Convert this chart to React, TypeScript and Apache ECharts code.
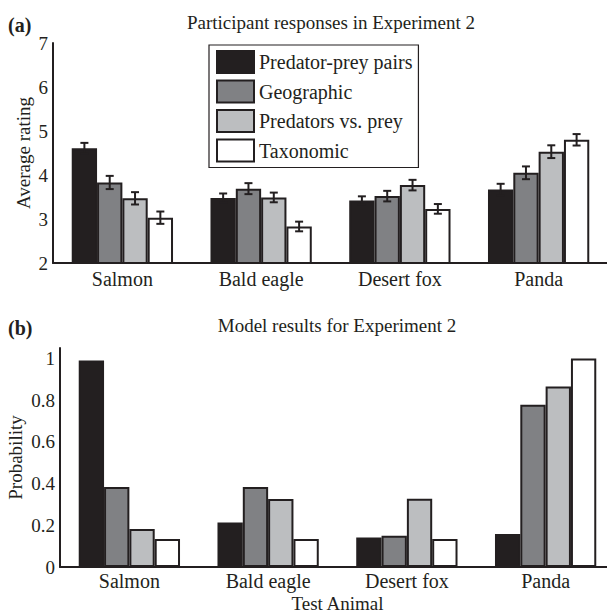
import React, { useEffect, useRef } from "react";
import * as echarts from "echarts";

const categories = ["Salmon", "Bald eagle", "Desert fox", "Panda"];
const seriesNames = ["Predator-prey pairs", "Geographic", "Predators vs. prey", "Taxonomic"];
const barColors = ["#231f20", "#808184", "#bcbec0", "#ffffff"];

// (a) Participant responses: average ratings and error bar half-lengths
const ratingPredatorPrey = [4.61, 3.48, 3.42, 3.67];
const ratingGeographic = [3.83, 3.69, 3.52, 4.05];
const ratingPredVsPrey = [3.47, 3.49, 3.77, 4.53];
const ratingTaxonomic = [3.03, 2.83, 3.23, 4.8];
const errPredatorPrey = [0.12, 0.1, 0.095, 0.13];
const errGeographic = [0.15, 0.125, 0.12, 0.145];
const errPredVsPrey = [0.14, 0.11, 0.12, 0.145];
const errTaxonomic = [0.14, 0.11, 0.11, 0.13];

// (b) Model results: probabilities
const probPredatorPrey = [0.99, 0.213, 0.142, 0.158];
const probGeographic = [0.384, 0.384, 0.15, 0.778];
const probPredVsPrey = [0.182, 0.326, 0.327, 0.866];
const probTaxonomic = [0.134, 0.134, 0.134, 1.0];

const ratings = [ratingPredatorPrey, ratingGeographic, ratingPredVsPrey, ratingTaxonomic];
const errors = [errPredatorPrey, errGeographic, errPredVsPrey, errTaxonomic];
const probs = [probPredatorPrey, probGeographic, probPredVsPrey, probTaxonomic];

const FONT = "'Liberation Serif', 'DejaVu Serif', serif";
const INK = "#231f20";
const CAT_GAP = 0.27;

export default function App() {
  const ref = useRef<HTMLDivElement>(null);
  useEffect(() => {
    if (!ref.current) return;
    const chart = echarts.init(ref.current, null, { renderer: "svg" });

    const errData: any[] = [];
    errors.forEach((arr, k) => {
      arr.forEach((e, c) => errData.push([c, ratings[k][c], e, k]));
    });

    const axisLine = { show: true, lineStyle: { color: INK, width: 2 } };
    const tickLabel = { color: INK, fontFamily: FONT, fontSize: 19, margin: 5 };
    const catLabel = { color: INK, fontFamily: FONT, fontSize: 20, margin: 6 };
    const nameStyle = { color: INK, fontFamily: FONT, fontSize: 19 };

    const barSeries = (data: number[], k: number, axisIdx: number) => ({
      type: "bar",
      name: seriesNames[k],
      xAxisIndex: axisIdx,
      yAxisIndex: axisIdx,
      data,
      barGap: "0%",
      barCategoryGap: CAT_GAP * 100 + "%",
      itemStyle: { color: barColors[k], borderColor: INK, borderWidth: 2 },
      emphasis: { disabled: true },
    });

    const option: any = {
      animation: false,
      backgroundColor: "#ffffff",
      textStyle: { fontFamily: FONT },
      grid: [
        { left: 53, top: 43, width: 555, height: 220, containLabel: false, outerBoundsMode: "none" },
        { left: 60, top: 348, width: 555, height: 219, containLabel: false, outerBoundsMode: "none" },
      ],
      xAxis: [
        {
          type: "category", gridIndex: 0, data: categories,
          axisLine, axisTick: { show: false }, axisLabel: catLabel,
        },
        {
          type: "category", gridIndex: 1, data: categories,
          axisLine, axisTick: { show: false }, axisLabel: { ...catLabel, margin: 4 },
          name: "Test Animal", nameLocation: "middle", nameGap: 27,
          nameMoveOverlap: false,
          nameTextStyle: nameStyle,
        },
      ],
      yAxis: [
        {
          type: "value", gridIndex: 0, min: 2, max: 7, interval: 1,
          axisLine, axisTick: { show: false }, splitLine: { show: false },
          axisLabel: tickLabel,
          name: "Average rating", nameLocation: "middle", nameGap: 20,
          nameMoveOverlap: false,
          nameTextStyle: nameStyle,
        },
        {
          type: "value", gridIndex: 1, min: 0, max: 1.05, interval: 0.2,
          axisLine, axisTick: { show: false }, splitLine: { show: false },
          axisLabel: { ...tickLabel, showMaxLabel: false },
          name: "Probability", nameLocation: "middle", nameGap: 35,
          nameMoveOverlap: false,
          nameTextStyle: nameStyle,
        },
      ],
      legend: {
        data: seriesNames,
        orient: "vertical",
        left: 209,
        top: 45,
        padding: [5, 6, 5, 7],
        itemWidth: 37,
        itemHeight: 22,
        itemGap: 5.5,
        icon: "rect",
        borderColor: INK,
        borderWidth: 1.2,
        backgroundColor: "#ffffff",
        itemStyle: { borderColor: INK, borderWidth: 2 },
        textStyle: { color: INK, fontFamily: FONT, fontSize: 20 },
        selectedMode: false,
      },
      graphic: [
        { type: "text", left: 8, top: 15, style: { text: "(a)", font: `bold 20px ${FONT}`, fill: INK } },
        { type: "text", left: 8, top: 318, style: { text: "(b)", font: `bold 20px ${FONT}`, fill: INK } },
        {
          type: "text", x: 331, y: 22,
          style: { text: "Participant responses in Experiment 2", font: `19px ${FONT}`, fill: INK, textAlign: "center", textVerticalAlign: "middle" },
        },
        {
          type: "text", x: 337, y: 325,
          style: { text: "Model results for Experiment 2", font: `19px ${FONT}`, fill: INK, textAlign: "center", textVerticalAlign: "middle" },
        },
      ],
      series: [
        ...ratings.map((d, k) => barSeries(d, k, 0)),
        ...probs.map((d, k) => ({ ...barSeries(d, k, 1) })),
        {
          type: "custom",
          name: "errors",
          xAxisIndex: 0,
          yAxisIndex: 0,
          z: 10,
          data: errData,
          encode: { x: 0, y: 1 },
          silent: true,
          renderItem: (params: any, api: any) => {
            const c = api.value(0);
            const v = api.value(1);
            const e = api.value(2);
            const k = api.value(3);
            const band = api.size([1, 0])[0];
            const barW = (band * (1 - CAT_GAP)) / 4;
            const cx = api.coord([c, v])[0] + (k - 1.5) * barW;
            const yTop = api.coord([c, v + e])[1];
            const yBot = api.coord([c, v - e])[1];
            const hw = 4;
            const st = { stroke: INK, lineWidth: 2 };
            return {
              type: "group",
              children: [
                { type: "line", shape: { x1: cx, y1: yTop, x2: cx, y2: yBot }, style: st },
                { type: "line", shape: { x1: cx - hw, y1: yTop, x2: cx + hw, y2: yTop }, style: st },
                { type: "line", shape: { x1: cx - hw, y1: yBot, x2: cx + hw, y2: yBot }, style: st },
              ],
            };
          },
        },
      ],
    };

    chart.setOption(option);
    return () => chart.dispose();
  }, []);

  return <div ref={ref} style={{ width: 607, height: 613, position: "absolute", left: 0, top: 0 }} />;
}
